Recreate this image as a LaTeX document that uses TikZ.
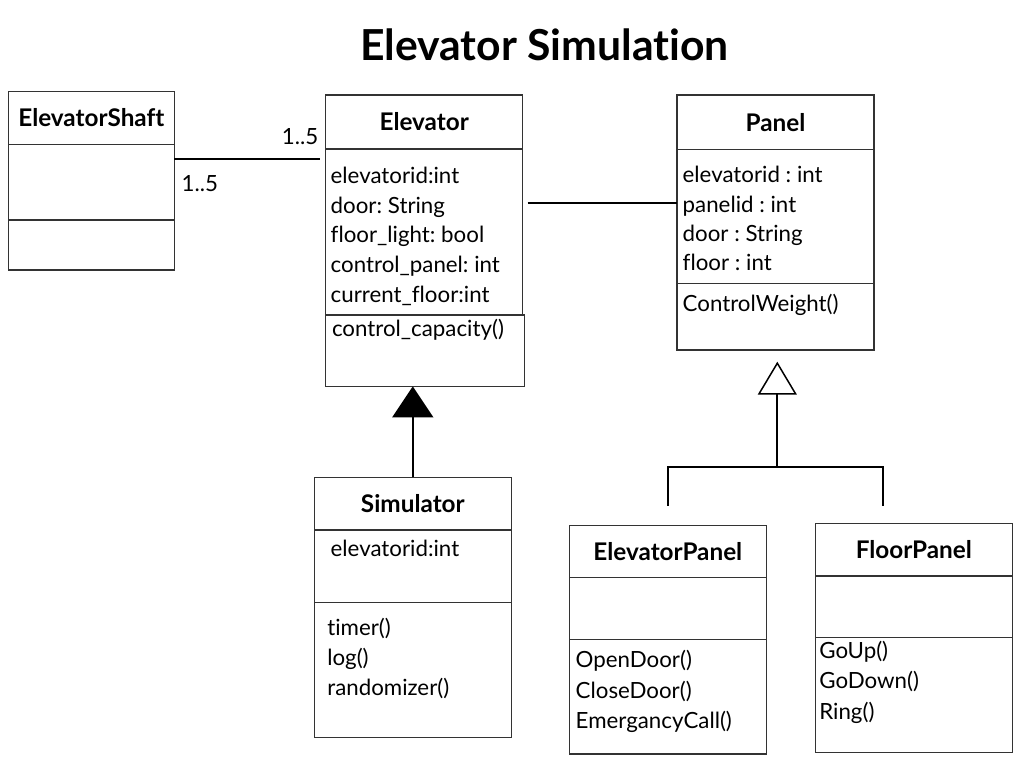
\documentclass[tikz,border=0pt]{standalone}
\usepackage{fontspec}
\setmainfont{Lato}[Ligatures={NoCommon}]
\usetikzlibrary{positioning,arrows.meta}
\frenchspacing

\begin{document}
\begin{tikzpicture}[x=1pt, y=-1pt,
    nodes = {inner sep=0pt, outer sep=0pt},
    part/.style   = {draw=black!80, line width=1.3pt, minimum width=197pt, anchor=north west},
    cname/.style  = {part, font=\fontsize{24.3}{29}\selectfont\bfseries},
    member/.style = {anchor=base west, font=\fontsize{22.3}{27}\selectfont},
    mult/.style   = {member},
    assoc/.style  = {line width=1.8pt},
    inherit/.style = {line width=1.8pt, -{Triangle[width=41pt,length=31pt]}},
    general/.style = {line width=1.8pt, -{Triangle[open,width=39pt,length=33pt,line width=1.5pt]}}]
    \useasboundingbox (0,0) rectangle (1024,768);

    % Title
    \node[anchor=base, font=\fontsize{42.7}{51}\selectfont\bfseries] (title) at (544.5,60) {Elevator Simulation};

    % ElevatorShaft
    \node[cname, minimum width=166pt, minimum height=53pt] (shaft) at (8.3,91.5) {ElevatorShaft};
    \node[part, minimum width=166pt, minimum height=75.5pt, below=0pt of shaft] (shaft-attr) {};
    \node[part, minimum width=166pt, minimum height=50pt, below=0pt of shaft-attr] (shaft-ops) {};

    % Elevator
    \node[cname, minimum height=54pt] (elev) at (325.7,95) {Elevator};
    \node[part, minimum height=166pt, below=0pt of elev] (elev-attr) {};
    \node[part, minimum width=199pt, minimum height=71.4pt, below=0pt of elev-attr, xshift=1pt] (elev-ops) {};
    \foreach \txt [count=\i] in {elevatorid:int, door: String, floor\_light: bool,
                                 control\_panel: int, current\_floor:int}
      \node[member] (elev-a\i) at ([shift={(5,5+29.6*\i)}]elev-attr.north west) {\txt};
    \node[member] (elev-o1) at ([shift={(6.3,21.4)}]elev-ops.north west) {control\_capacity()};

    % Panel
    \node[cname, minimum height=54.3pt] (panel) at (677,95) {Panel};
    \node[part, minimum height=134.2pt, below=0pt of panel] (panel-attr) {};
    \node[part, minimum height=66.5pt, below=0pt of panel-attr] (panel-ops) {};
    \foreach \txt [count=\i] in {elevatorid : int, panelid : int, door : String, floor : int}
      \node[member] (panel-a\i) at ([shift={(5.7,4.3+29.2*\i)}]panel-attr.north west) {\txt};
    \node[member] (panel-o1) at ([shift={(5.7,28.2)}]panel-ops.north west) {ControlWeight()};

    % Simulator
    \node[cname, minimum height=52.7pt] (sim) at (314.3,477.3) {Simulator};
    \node[part, minimum height=72.7pt, below=0pt of sim] (sim-attr) {};
    \node[part, minimum height=134.6pt, below=0pt of sim-attr] (sim-ops) {};
    \node[member] (sim-a1) at ([shift={(16.4,26)}]sim-attr.north west) {elevatorid:int};
    \foreach \txt [count=\i] in {timer(), log(), randomizer()}
      \node[member] (sim-o\i) at ([shift={(13,2.3+30*\i)}]sim-ops.north west) {\txt};

    % ElevatorPanel
    \node[cname, minimum height=52pt] (epanel) at (569.3,525.7) {ElevatorPanel};
    \node[part, minimum height=61.6pt, below=0pt of epanel] (epanel-attr) {};
    \node[part, minimum height=114.7pt, below=0pt of epanel-attr] (epanel-ops) {};
    \foreach \txt [count=\i] in {OpenDoor(), CloseDoor(), EmergancyCall()}
      \node[member] (epanel-o\i) at ([shift={(6.4,-2.3+30.5*\i)}]epanel-ops.north west) {\txt};

    % FloorPanel
    \node[cname, minimum height=52.7pt] (fpanel) at (815.3,523.3) {FloorPanel};
    \node[part, minimum height=61.3pt, below=0pt of fpanel] (fpanel-attr) {};
    \node[part, minimum height=115pt, below=0pt of fpanel-attr] (fpanel-ops) {};
    \foreach \txt [count=\i] in {GoUp(), GoDown(), Ring()}
      \node[member] (fpanel-o\i) at ([shift={(4,-9.5+30.5*\i)}]fpanel-ops.north west) {\txt};

    % Associations
    \coordinate (shaft-link) at ([yshift=-14.5pt]shaft-attr.north east);
    \coordinate (elev-link) at ([xshift=-5.7pt]shaft-link -| elev-attr.west);
    \draw[assoc] (shaft-link) -- (elev-link);
    \node[mult, anchor=base east] (mult-elev) at ([shift={(-1.7,-15)}]elev-link) {1..5};
    \node[mult] (mult-shaft) at ([shift={(7.4,32.7)}]shaft-link) {1..5};

    \coordinate (panel-link) at ([shift={(5,54)}]elev-attr.north east);
    \draw[assoc] (panel-link) -- (panel-link -| panel-attr.west);

    % Generalisations
    \draw[inherit] (sim.north) -- (sim.north |- elev-ops.south);

    \coordinate (split) at (777.3,466.7);
    \coordinate (epanel-end) at ([yshift=20pt]epanel.north);
    \coordinate (fpanel-end) at ([shift={(-31.1,-17.6)}]fpanel.north);
    \draw[assoc] (epanel-end) |- (split) -| (fpanel-end);
    \draw[general, shorten >=11.7pt] (split) -- (split |- panel-ops.south);
\end{tikzpicture}
\end{document}
